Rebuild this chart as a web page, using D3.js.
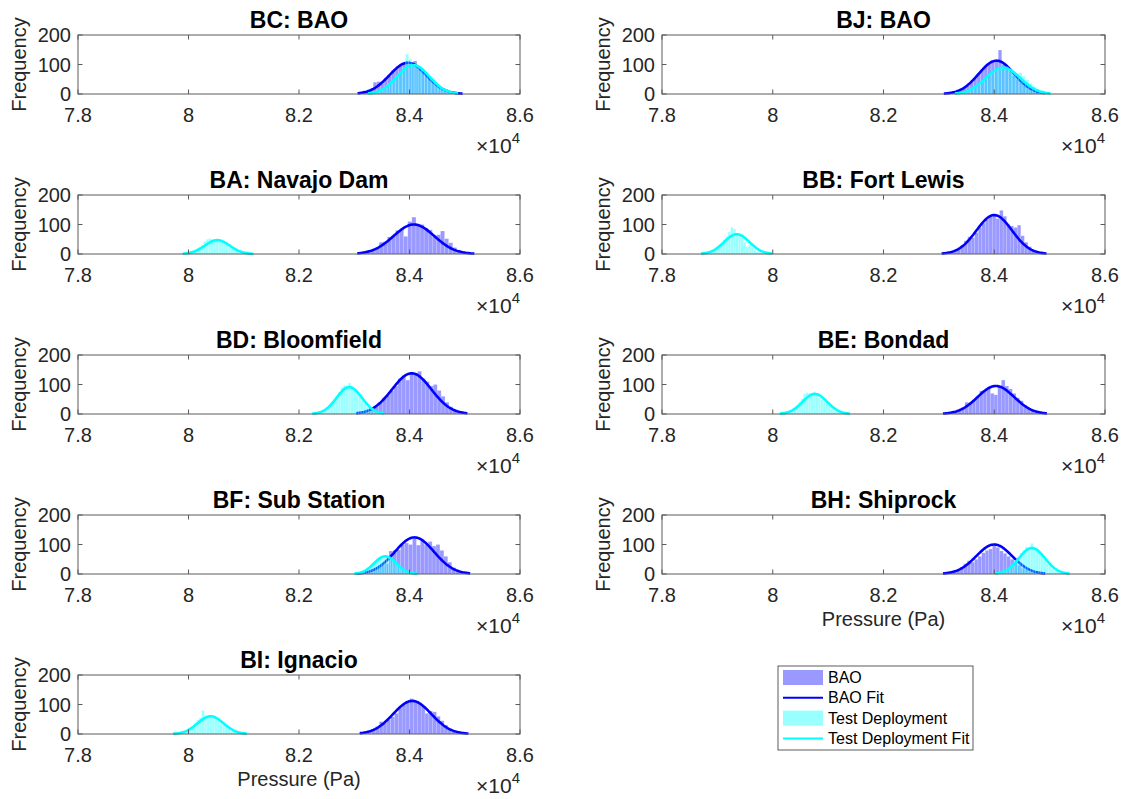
<!DOCTYPE html>
<html><head><meta charset="utf-8">
<script src="https://cdn.jsdelivr.net/npm/d3@7"></script>
<style>
body{margin:0;background:#fff}
svg text{font-family:"Liberation Sans",Arial,Helvetica,sans-serif}
</style>
</head><body>
<svg id="c" width="1133" height="799"></svg>
<script>
// ---------------- data ----------------
const panelTitles = ["BC: BAO","BJ: BAO","BA: Navajo Dam","BB: Fort Lewis","BD: Bloomfield","BE: Bondad","BF: Sub Station","BH: Shiprock","BI: Ignacio"];
const xTicks = [78000, 80000, 82000, 84000, 86000];
const xTickLabels = ["7.8","8","8.2","8.4","8.6"];
const yTicks = [0, 100, 200];
const yTickLabels = ["0","100","200"];
const xLabelPanels = ["BH: Shiprock","BI: Ignacio"];
const legendLabels = ["BAO","BAO Fit","Test Deployment","Test Deployment Fit"];

// BAO histograms (first bin edge, bin width, counts)
const baoBinStart = [83079, 83176, 83081, 83136, 83081, 83139, 83131, 83122, 83108];
const baoBinWidth = [66, 64, 74, 64, 71, 66, 71, 65, 69];
const baoCounts = [
  [4,6,10,18,40,42,36,55,62,80,88,96,104,110,100,112,85,80,60,52,45,32,22,14,10,6,3],
  [3,5,8,14,22,30,40,52,68,80,95,105,108,112,149,100,92,78,62,50,38,28,18,12,8,5,3],
  [2,4,8,14,22,40,42,58,62,80,86,60,110,125,98,100,88,82,60,65,78,52,38,22,12,6,3],
  [3,6,10,18,30,45,58,55,72,90,105,118,128,130,120,148,128,100,95,90,98,62,40,25,14,8,4],
  [3,6,10,18,28,40,55,65,80,95,120,130,115,140,138,145,120,110,95,100,80,60,40,25,15,8,4],
  [2,4,8,12,20,40,38,48,58,78,82,88,70,65,92,115,95,85,70,55,45,30,20,12,8,4,2],
  [2,4,8,14,22,30,35,78,80,82,100,105,100,120,98,118,100,110,95,100,80,60,40,22,12,6,3],
  [2,4,8,14,22,35,45,40,50,60,72,80,85,100,90,78,70,60,50,40,30,20,14,8,5,3,1],
  [2,4,8,14,25,42,38,48,58,70,88,100,110,120,112,105,95,70,78,75,60,45,30,18,10,5,2]
];
// Test deployment histograms
const testBinStart = [83287, 83323, 79913, 78734, 82294, 80161, 83020, 84043, 79768];
const testBinWidth = [58, 62, 45, 46, 46, 44, 40, 47, 47];
const testCounts = [
  [3,5,8,12,18,28,35,45,58,70,88,135,118,100,92,95,82,68,55,52,40,28,20,15,9,5,3],
  [2,4,7,11,17,24,32,42,52,62,72,80,86,88,92,85,78,70,72,60,48,36,26,18,12,7,4],
  [2,3,5,8,12,18,24,30,42,50,52,50,48,45,44,42,36,30,22,18,15,14,12,8,5,3,2],
  [2,3,5,8,12,18,26,35,48,60,75,90,85,70,62,55,40,25,30,22,15,10,6,4,3,2,1],
  [2,4,6,10,16,25,35,48,60,75,90,98,95,105,85,80,70,60,45,35,25,16,10,6,4,2,1],
  [2,3,5,8,12,18,28,40,52,68,72,70,66,75,68,55,48,40,35,28,18,12,8,5,3,2,1],
  [2,3,5,8,12,18,24,32,40,48,55,60,58,62,60,55,50,42,35,28,20,15,10,6,4,2,1],
  [2,4,6,10,16,24,34,45,58,70,80,92,86,104,90,85,75,62,48,36,30,18,12,8,5,3,2],
  [2,3,5,8,12,18,26,36,48,55,80,62,58,60,55,50,42,36,30,24,18,12,8,5,3,2,1]
];
// Normal fits (mean, sigma, peak height, drawn range)
const baoFitMean  = [83970, 84040, 84080, 84000, 84040, 84030, 84090, 84000, 84050];
const baoFitSigma = [330, 320, 370, 320, 355, 330, 355, 325, 345];
const baoFitPeak  = [106, 113, 100, 132, 138, 95, 124, 100, 112];
const baoFitLo    = [83060, 83090, 83055, 83049, 83035, 83074, 83050, 83074, 83098];
const baoFitHi    = [84960, 84913, 85173, 84944, 85048, 84951, 85098, 84919, 85067];
const testFitMean  = [84070, 84160, 80520, 79350, 82910, 80760, 83560, 84680, 80400];
const testFitSigma = [290, 310, 225, 228, 228, 222, 200, 236, 234];
const testFitPeak  = [98, 89, 47, 67, 91, 68, 60, 88, 60];
const testFitLo    = [83250, 83290, 79895, 78704, 82241, 80129, 83003, 84013, 79721];
const testFitHi    = [84880, 85016, 81173, 79991, 83543, 81392, 84146, 85359, 81054];

// ---------------- drawing ----------------
const svg = d3.select("#c");
const colX = [[78, 520], [662, 1105]];
const rowTop = 35, rowStep = 160, plotH = 59;
const BLUE = "#0000ff", CYAN = "#00ffff";
const axisCol = "#5a5a5a", textCol = "#262626";

panelTitles.forEach((title, p) => {
  const col = p === 8 ? 0 : p % 2;
  const row = Math.floor(p / 2);
  const [xa, xb] = colX[col];
  const top = rowTop + row * rowStep, bot = top + plotH;
  const x = d3.scaleLinear().domain([78000, 86000]).range([xa, xb]);
  const y = d3.scaleLinear().domain([0, 200]).range([bot, top]);
  const g = svg.append("g");

  const drawHist = (start, bw, counts, color) => {
    g.append("g").selectAll("rect").data(counts).join("rect")
      .attr("x", (d, i) => x(start + i * bw))
      .attr("width", x(start + bw) - x(start))
      .attr("y", d => y(d))
      .attr("height", d => y(0) - y(d))
      .attr("fill", color).attr("fill-opacity", 0.4)
      .attr("stroke", "#ffffff").attr("stroke-opacity", 0.35).attr("stroke-width", 0.5);
  };
  const drawFit = (mu, sd, pk, lo, hi, color) => {
    const xs = d3.range(lo, hi, (hi - lo) / 120).concat([hi]);
    const line = d3.line().x(v => x(v)).y(v => y(pk * Math.exp(-0.5 * ((v - mu) / sd) ** 2)));
    g.append("path").datum(xs).attr("d", line)
      .attr("fill", "none").attr("stroke", color).attr("stroke-width", 2.6);
  };

  drawHist(baoBinStart[p], baoBinWidth[p], baoCounts[p], BLUE);
  drawFit(baoFitMean[p], baoFitSigma[p], baoFitPeak[p], baoFitLo[p], baoFitHi[p], BLUE);
  drawHist(testBinStart[p], testBinWidth[p], testCounts[p], CYAN);
  drawFit(testFitMean[p], testFitSigma[p], testFitPeak[p], testFitLo[p], testFitHi[p], CYAN);

  // axes box
  g.append("rect").attr("x", xa).attr("y", top).attr("width", xb - xa).attr("height", plotH)
    .attr("fill", "none").attr("stroke", axisCol).attr("stroke-width", 1);
  const tl = 4.5;
  xTicks.forEach(t => {
    g.append("line").attr("x1", x(t)).attr("x2", x(t)).attr("y1", bot).attr("y2", bot - tl).attr("stroke", axisCol);
    g.append("line").attr("x1", x(t)).attr("x2", x(t)).attr("y1", top).attr("y2", top + tl).attr("stroke", axisCol);
  });
  yTicks.forEach(t => {
    g.append("line").attr("x1", xa).attr("x2", xa + tl).attr("y1", y(t)).attr("y2", y(t)).attr("stroke", axisCol);
    g.append("line").attr("x1", xb).attr("x2", xb - tl).attr("y1", y(t)).attr("y2", y(t)).attr("stroke", axisCol);
  });
  g.selectAll(".xt").data(xTicks).join("text")
    .attr("x", d => x(d)).attr("y", bot + 28).attr("text-anchor", "middle")
    .attr("font-size", 20).attr("fill", textCol).text((d, i) => xTickLabels[i]);
  g.selectAll(".yt").data(yTicks).join("text")
    .attr("x", xa - 7).attr("y", d => y(d) + 7).attr("text-anchor", "end")
    .attr("font-size", 20).attr("fill", textCol).text((d, i) => yTickLabels[i]);
  // exponent
  const ex = g.append("text").attr("x", xb).attr("y", bot + 59).attr("text-anchor", "end")
    .attr("font-size", 21).attr("fill", textCol);
  ex.append("tspan").attr("font-weight", 300).text("\u00d710");
  ex.append("tspan").attr("font-size", 15).attr("dy", -10).text("4");
  // y label
  g.append("text").attr("transform", `translate(${xa - 52},${(top + bot) / 2}) rotate(-90)`)
    .attr("text-anchor", "middle").attr("font-size", 20).attr("fill", textCol).text("Frequency");
  // title
  g.append("text").attr("x", (xa + xb) / 2).attr("y", top - 7.5).attr("text-anchor", "middle")
    .attr("font-size", 23).attr("font-weight", "bold").attr("fill", "#000").text(title);
  if (xLabelPanels.includes(title)) {
    g.append("text").attr("x", (xa + xb) / 2).attr("y", bot + 52).attr("text-anchor", "middle")
      .attr("font-size", 20).attr("fill", textCol).text("Pressure (Pa)");
  }
});

// legend
const lg = svg.append("g");
lg.append("rect").attr("x", 778).attr("y", 666).attr("width", 195).attr("height", 84)
  .attr("fill", "#fff").attr("stroke", "#333").attr("stroke-width", 0.8);
legendLabels.forEach((lab, i) => {
  const cy = 677.5 + i * 20.3;
  if (i % 2 === 0) {
    lg.append("rect").attr("x", 783).attr("y", cy - 7.5).attr("width", 40).attr("height", 15)
      .attr("fill", i === 0 ? BLUE : CYAN).attr("fill-opacity", 0.4);
  } else {
    lg.append("line").attr("x1", 783).attr("x2", 823).attr("y1", cy).attr("y2", cy)
      .attr("stroke", i === 1 ? BLUE : CYAN).attr("stroke-width", 2);
  }
  lg.append("text").attr("x", 828).attr("y", cy + 5.5).attr("font-size", 16).attr("fill", "#000").text(lab);
});
</script>
</body></html>
